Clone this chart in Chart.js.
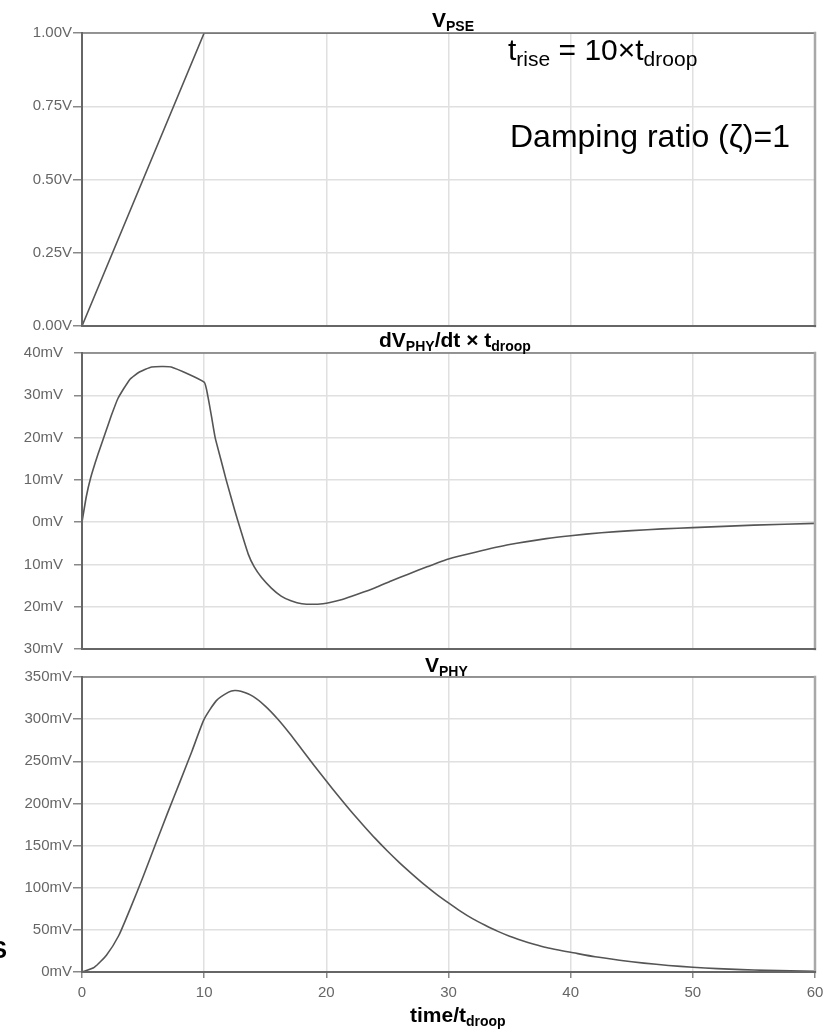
<!DOCTYPE html>
<html>
<head>
<meta charset="utf-8">
<script src="https://cdn.jsdelivr.net/npm/chart.js@4.4.1/dist/chart.umd.min.js"></script>
<style>
  html, body { margin:0; padding:0; background:#fff; }
  body { width:825px; height:1029px; position:relative; overflow:hidden; font-family:"Liberation Sans", Arial, sans-serif; }
  canvas { position:absolute; left:0; display:block; }
  .t { position:absolute; white-space:nowrap; line-height:1; color:#000; z-index:5; }
  .ttl { font-weight:bold; font-size:21px; }
  .ttl sub { font-size:14px; vertical-align:-0.28em; line-height:0; }
  .ann sub { font-size:21px; vertical-align:-0.3em; line-height:0; }
</style>
</head>
<body>
<canvas id="c1" width="825" height="320" style="top:20px"></canvas>
<canvas id="c2" width="825" height="320" style="top:340px"></canvas>
<canvas id="c3" width="825" height="365" style="top:664px"></canvas>

<div class="t ttl" style="left:432px; top:9px;">V<sub>PSE</sub></div>
<div class="t ttl" style="left:379px; top:329px;">dV<sub>PHY</sub>/dt × t<sub>droop</sub></div>
<div class="t ttl" style="left:425px; top:654px;">V<sub>PHY</sub></div>
<div class="t ttl" style="left:410px; top:1004px;">time/t<sub>droop</sub></div>
<div class="t ann" style="left:508px; top:35px; font-size:30px;">t<sub>rise</sub> = 10×t<sub>droop</sub></div>
<div class="t ann" style="left:510px; top:120px; font-size:32px;">Damping ratio (ζ)=1</div>
<div class="t ttl" style="left:-9px; top:938px; font-size:24px;">S</div>

<script>
// ---- data ----
const X_TICK_VALUES = [0, 10, 20, 30, 40, 50, 60];
const X_TICK_LABELS = ['0', '10', '20', '30', '40', '50', '60'];

// V_PSE (volts) vs time/t_droop
const PSE_T = [0, 10, 60];
const PSE_V = [0, 1, 1];
const PSE_TICK_VALUES = [0, 0.25, 0.5, 0.75, 1];
const PSE_TICK_LABELS = ['0.00V', '0.25V', '0.50V', '0.75V', '1.00V'];

// dV_PHY/dt x t_droop (mV) vs time/t_droop
const DERIV_T = [0, 0.35, 0.71, 1.3, 1.9, 2.4, 2.95, 3.9, 4.7, 5.7, 7.3, 10, 10.3, 10.6, 10.9, 11.35, 11.8, 12.5, 13, 13.6, 14.1, 14.7, 15.5, 16.3, 17.1, 18, 19.3, 20.3, 21.3, 22.6, 24, 25.3, 26.7, 28.3, 30, 32.2, 35, 38, 40, 42.5, 45, 47.5, 50, 55, 60];
const DERIV_MV = [0, 6, 10.5, 16, 21, 25.2, 29.3, 33.7, 35.5, 36.7, 36.7, 33.1, 29.8, 25, 20, 15, 10, 2.8, -2, -7.5, -10.6, -13.1, -15.6, -17.5, -18.6, -19.3, -19.4, -19, -18.3, -17, -15.5, -13.9, -12.3, -10.5, -8.7, -7.1, -5.3, -3.9, -3.2, -2.5, -2.0, -1.6, -1.3, -0.7, -0.3];
const DERIV_TICK_VALUES = [-30, -20, -10, 0, 10, 20, 30, 40];
const DERIV_TICK_LABELS = ['30mV', '20mV', '10mV', '0mV', '10mV', '20mV', '30mV', '40mV'];

// V_PHY (mV) vs time/t_droop
const PHY_T = [0, 1, 2, 3, 4, 5, 6, 7, 8, 9, 10, 11, 12, 12.5, 13, 14, 15, 16, 17, 18, 19, 20, 21, 22, 23, 24, 25, 26, 27, 28, 29, 30, 31, 32, 33, 34, 35, 36, 37, 38, 39, 40, 42, 44, 46, 48, 50, 52, 54, 56, 58, 60];
const PHY_MV = [0, 5.5, 20, 43, 77, 113, 151, 188.5, 225, 262, 300, 322, 332, 334, 333, 327, 315.5, 300.5, 283, 264, 245, 226.5, 208.5, 191, 174.5, 158.5, 143.5, 129.5, 116.5, 104, 92.5, 82, 72, 63, 55.5, 48.5, 42.5, 37.5, 33, 29, 26, 23.4, 18, 14, 10.5, 7.8, 5.6, 4, 2.8, 1.9, 1.3, 0.8];
const PHY_TICK_VALUES = [0, 50, 100, 150, 200, 250, 300, 350];
const PHY_TICK_LABELS = ['0mV', '50mV', '100mV', '150mV', '200mV', '250mV', '300mV', '350mV'];

// ---- helpers ----
const LINE = '#555';
const GRID = '#e0e0e0';
const FONT = { family: '"Liberation Sans", Arial, sans-serif', size: 15 };

const framePlugin = {
  id: 'frame',
  afterDraw(chart) {
    const a = chart.chartArea, ctx = chart.ctx;
    ctx.save();
    ctx.lineCap = 'square';
    ctx.strokeStyle = '#777'; ctx.lineWidth = 1.5;
    ctx.beginPath(); ctx.moveTo(a.left, a.top); ctx.lineTo(a.right, a.top); ctx.stroke();
    ctx.strokeStyle = '#a8a8a8'; ctx.lineWidth = 2.5;
    ctx.beginPath(); ctx.moveTo(a.right, a.top); ctx.lineTo(a.right, a.bottom); ctx.stroke();
    ctx.strokeStyle = '#666'; ctx.lineWidth = 2;
    ctx.beginPath(); ctx.moveTo(a.left, a.top); ctx.lineTo(a.left, a.bottom); ctx.stroke();
    ctx.beginPath(); ctx.moveTo(a.left, a.bottom); ctx.lineTo(a.right, a.bottom); ctx.stroke();
    ctx.restore();
  }
};

function pts(xs, ys) { return xs.map((x, i) => ({ x: x, y: ys[i] })); }

function makeChart(id, xs, ys, yMin, yMax, tickVals, tickLabels, opts) {
  const showX = opts.showX;
  return new Chart(document.getElementById(id), {
    type: 'line',
    data: { datasets: [{
      data: pts(xs, ys),
      borderColor: LINE, borderWidth: 1.6, pointRadius: 0,
      tension: opts.tension, fill: false
    }]},
    options: {
      responsive: false, animation: false, devicePixelRatio: 1,
      layout: { padding: { top: opts.padTop, bottom: opts.padBottom, left: 0, right: 10 } },
      plugins: { legend: { display: false }, tooltip: { enabled: false }, title: { display: false } },
      scales: {
        x: {
          type: 'linear', min: 0, max: 60,
          afterBuildTicks: s => { s.ticks = X_TICK_VALUES.map(v => ({ value: v })); },
          afterFit: s => { s.height = showX ? 57 : 0; s.paddingLeft = 0; s.paddingRight = 0; },
          grid: { color: GRID, lineWidth: 1.5, drawTicks: showX, tickLength: 6, tickColor: '#888' },
          border: { display: false },
          ticks: {
            display: showX, padding: 6, color: '#666', font: FONT, maxRotation: 0,
            callback: v => X_TICK_LABELS[X_TICK_VALUES.indexOf(v)]
          }
        },
        y: {
          type: 'linear', min: yMin, max: yMax,
          afterBuildTicks: s => { s.ticks = tickVals.map(v => ({ value: v })); },
          afterFit: s => { s.width = 82; s.paddingTop = 0; s.paddingBottom = 0; },
          grid: { color: GRID, lineWidth: 1.5, drawTicks: true, tickLength: opts.tickLen, tickColor: '#888' },
          border: { display: false },
          ticks: {
            padding: opts.tickPad, color: '#666', font: FONT,
            callback: v => tickLabels[tickVals.indexOf(v)]
          }
        }
      }
    },
    plugins: [framePlugin]
  });
}

makeChart('c1', PSE_T, PSE_V, 0, 1, PSE_TICK_VALUES, PSE_TICK_LABELS,
  { showX: false, padTop: 13, padBottom: 14, tickLen: 9, tickPad: 1, tension: 0 });
makeChart('c2', DERIV_T, DERIV_MV, -30, 40, DERIV_TICK_VALUES, DERIV_TICK_LABELS,
  { showX: false, padTop: 13, padBottom: 11, tickLen: 8, tickPad: 11, tension: 0.15 });
makeChart('c3', PHY_T, PHY_MV, 0, 350, PHY_TICK_VALUES, PHY_TICK_LABELS,
  { showX: true, padTop: 13, padBottom: 0, tickLen: 9, tickPad: 1, tension: 0.2 });
</script>
</body>
</html>
